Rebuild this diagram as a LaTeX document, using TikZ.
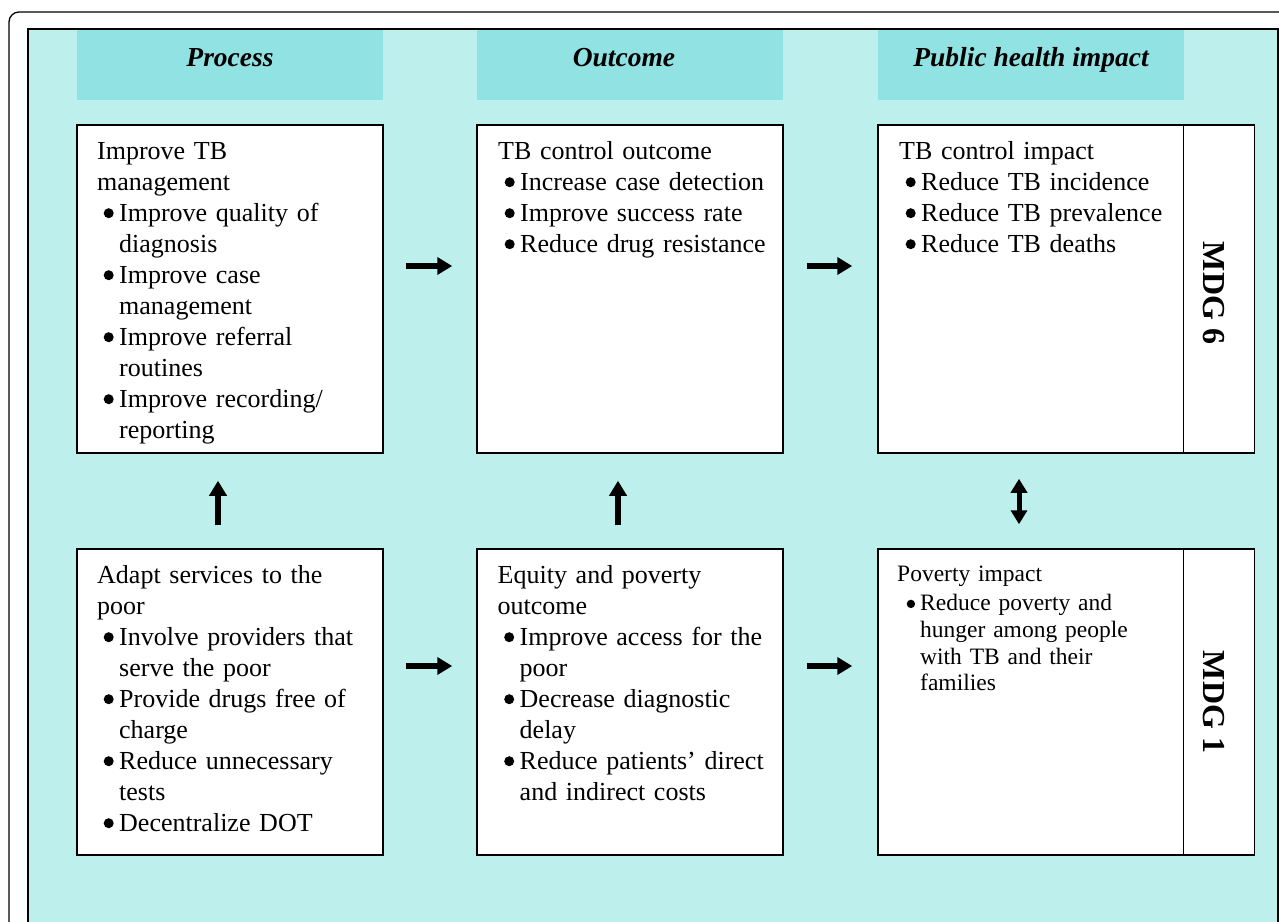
\documentclass[tikz,border=0pt]{standalone}
\usepackage{fontspec}
\setmainfont{Liberation Serif}
\usetikzlibrary{arrows.meta}
\definecolor{bgc}{RGB}{189,239,237}
\definecolor{hdc}{RGB}{145,227,227}
\newcommand{\nl}{\hfil\break}
\newcommand{\hd}[1]{\noindent\strut #1\par}
\newcommand{\bl}[1]{\noindent\hangindent=22pt\hangafter=1\makebox[22pt][l]{\hspace{6.5pt}\tikz[baseline=-8pt]\fill (5pt,0pt) circle[radius=5pt];}#1\par}
\newcommand{\blp}[1]{\noindent\hangindent=23pt\hangafter=1\makebox[23pt][l]{\hspace{9.5pt}\tikz[baseline=-7pt]\fill (4.2pt,0pt) circle[radius=4.2pt];}#1\par}
\begin{document}
\begin{tikzpicture}[x=1pt,y=-1pt,
  box/.style={draw, line width=1.5pt, fill=white, minimum width=306pt, inner sep=0pt},
  side/.style={draw, line width=1.5pt, fill=white, minimum width=71pt, inner sep=0pt},
  hdr/.style={fill=hdc, minimum width=306pt, text height=36pt, text depth=34pt, inner sep=0pt, anchor=base,
    font=\fontsize{27.5}{30}\selectfont\bfseries\itshape},
  txt/.style={anchor=north west, inner sep=0pt, text width=280pt, align=left, font=\fontsize{26}{31}\selectfont},
  txtp/.style={anchor=north west, inner sep=0pt, text width=280pt, align=left, font=\fontsize{23.5}{26.7}\selectfont},
  mdg/.style={rotate=-90, inner sep=0pt, font=\fontsize{32}{34}\selectfont\bfseries},
  arr/.style={line width=6pt, -{Triangle[length=15pt,width=17pt]}},
  arrd/.style={line width=5pt, {Triangle[length=14pt,width=16pt]}-{Triangle[length=14pt,width=16pt]}}]
\useasboundingbox (0,0) rectangle (1279,921);
% frames
\draw[line width=1.3pt, black, rounded corners=10pt] (1300,12) -- (9,12) -- (9,960);
\draw[line width=1.5pt, fill=bgc] (28,29) rectangle (1278,960);
% headers
\node[hdr] (h1) at (230,66) {Process};
\node[hdr] (h2) at (630,66) {Outcome\hspace*{12pt}};
\node[hdr] (h3) at (1031,66) {Public health impact};
% boxes
\node[box, minimum height=328pt] (b1) at (230,289) {};
\node[box, minimum height=328pt] (b2) at (630,289) {};
\node[box, minimum height=328pt] (b3) at (1031,289) {};
\node[side, minimum height=328pt] (s3) at (1219,289) {};
\node[box, minimum height=306pt] (b4) at (230,702) {};
\node[box, minimum height=306pt] (b5) at (630,702) {};
\node[box, minimum height=306pt] (b6) at (1031,702) {};
\node[side, minimum height=306pt] (s6) at (1219,702) {};
\node[mdg] (m6) at (1214,293) {MDG 6};
\node[mdg] (m1) at (1214,702) {MDG 1};
% texts
\node[txt] (t1) at (97,137.3) {%
\hd{Improve TB\nl management}%
\bl{Improve quality of\nl diagnosis}%
\bl{Improve case\nl management}%
\bl{Improve referral\nl routines}%
\bl{Improve recording/\nl reporting}};
\node[txt] (t2) at (498,137.3) {%
\hd{TB control outcome}%
\bl{Increase case detection}%
\bl{Improve success rate}%
\bl{Reduce drug resistance}};
\node[txt] (t3) at (899,137.3) {%
\hd{TB control impact}%
\bl{Reduce TB incidence}%
\bl{Reduce TB prevalence}%
\bl{Reduce TB deaths}};
\node[txt] (t4) at (97,561.3) {%
\hd{Adapt services to the\nl poor}%
\bl{Involve providers that\nl serve the poor}%
\bl{Provide drugs free of\nl charge}%
\bl{Reduce unnecessary\nl tests}%
\bl{Decentralize DOT}};
\node[txt] (t5) at (497.5,561.3) {%
\hd{Equity and poverty\nl outcome}%
\bl{Improve access for the\nl poor}%
\bl{Decrease diagnostic\nl delay}%
\bl{Reduce patients’ direct\nl and indirect costs}};
\node[txtp] (t6) at (897,562.3) {%
\hd{Poverty impact}\vspace{3pt}%
\blp{Reduce poverty and\nl hunger among people\nl with TB and their\nl families}};
% arrows
\draw[arr, shorten <=22pt, shorten >=24pt] ([yshift=23pt]b1.east) -- ([yshift=23pt]b2.west);
\draw[arr, shorten <=23pt, shorten >=25pt] ([yshift=23pt]b2.east) -- ([yshift=23pt]b3.west);
\draw[arr, shorten <=22pt, shorten >=24pt] ([yshift=36pt]b4.east) -- ([yshift=36pt]b5.west);
\draw[arr, shorten <=23pt, shorten >=25pt] ([yshift=36pt]b5.east) -- ([yshift=36pt]b6.west);
\draw[arr, shorten <=23pt, shorten >=27pt] ([xshift=-12pt]b4.north) -- ([xshift=-12pt]b1.south);
\draw[arr, shorten <=23pt, shorten >=27pt] ([xshift=-12pt]b5.north) -- ([xshift=-12pt]b2.south);
\draw[arrd, shorten <=24pt, shorten >=25pt] ([xshift=-12pt]b6.north) -- ([xshift=-12pt]b3.south);
\end{tikzpicture}
\end{document}
